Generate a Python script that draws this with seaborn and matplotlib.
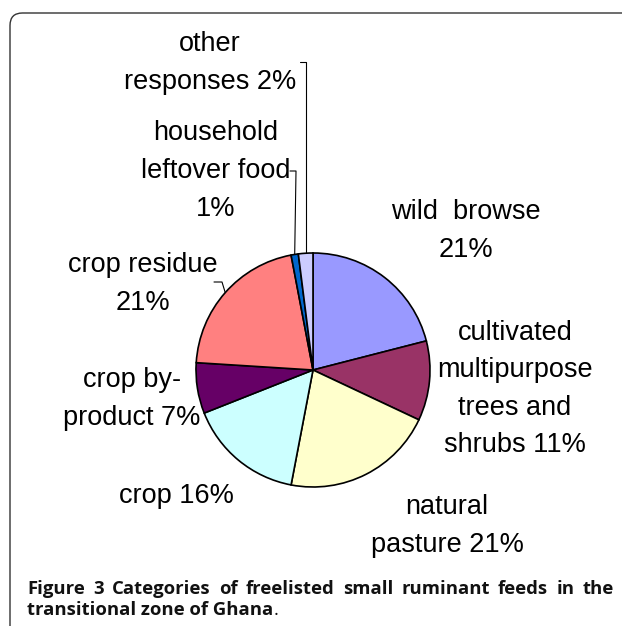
import matplotlib
matplotlib.use("Agg")
import matplotlib.pyplot as plt
import seaborn as sns
import numpy as np
from matplotlib.patches import FancyBboxPatch

# Data: feed categories, clockwise from 12 o'clock
categories = ["wild browse", "cultivated multipurpose trees and shrubs", "natural pasture",
              "crop", "crop by-product", "crop residue", "household leftover food",
              "other responses"]
shares = [21, 11, 21, 16, 7, 21, 1, 2]
colors = ["#9999FF", "#993366", "#FFFFCC", "#CCFFFF", "#660066", "#FF8080",
          "#0066CC", "#CCCCFF"]
label_texts = ["wild  browse\n21%", "cultivated\nmultipurpose\ntrees and\nshrubs 11%",
               "natural\npasture 21%", "crop 16%", "crop by-\nproduct 7%",
               "crop residue\n21%", "household\nleftover food\n1%", "other\nresponses 2%"]
caption_line1 = "Figure 3 Categories of freelisted small ruminant feeds in the"
caption_line2 = "transitional zone of Ghana"

sns.set_style("white")
plt.rcParams['font.family'] = ['Liberation Sans', 'DejaVu Sans']

W, H = 622, 626
fig = plt.figure(figsize=(W / 100, H / 100), dpi=100)

# rounded frame
frame = FancyBboxPatch((10 / W, -30 / H), (W + 40) / W, (H - 13 + 30) / H,
                       boxstyle="round,pad=0,rounding_size=0.02",
                       transform=fig.transFigure, fill=False,
                       edgecolor="#333333", linewidth=1.0)
fig.patches.append(frame)

# pie placement (pixel centre and radius)
cx, cy, r = 313, 370, 117
ax = fig.add_axes([(cx - r) / W, (H - cy - r) / H, 2 * r / W, 2 * r / H])
wedges, _ = ax.pie(shares, colors=colors, startangle=90, counterclock=False, radius=1,
                   wedgeprops=dict(edgecolor="black", linewidth=1.2))
ax.set_xlim(-1, 1)
ax.set_ylim(-1, 1)
ax.set_aspect("equal")
ax.axis("off")


def px(x, y):
    return ((x - cx) / r, (cy - y) / r)


def mid_point(w, rad=1.0):
    ang = np.deg2rad((w.theta1 + w.theta2) / 2)
    return rad * np.cos(ang), rad * np.sin(ang)


# label positions in pixels (centre of text block)
label_pos = [(466, 231), (515, 389), (447, 526), (176, 496), (132, 399),
             (143, 284), (216, 171), (210, 63)]
for txt, (x, y) in zip(label_texts, label_pos):
    fig.text(x / W, 1 - y / H, txt, ha="center", va="center", fontsize=19.5,
             linespacing=1.58, color="black")

# leader lines
lk = dict(color="black", linewidth=0.8, clip_on=False)
# other responses
mx, my = mid_point(wedges[7])
tx, ty = px(300, 62)
ax.plot([mx, mx, tx], [my, ty, ty], **lk)
# household leftover food
mx, my = mid_point(wedges[6])
tx, ty = px(290, 171)
kx, _ = px(296, 171)
ax.plot([mx, kx, tx], [my, ty, ty], **lk)
# crop residue
mx, my = mid_point(wedges[5])
kx, ky = px(222, 282)
tx, ty = px(214, 282)
ax.plot([mx, kx, tx], [my, ky, ty], **lk)

# caption: size so that line 2 spans x=27..270, line 1 justified to x=614
cfont = ["Open Sans", "DejaVu Sans"]
ccol = "#111111"
renderer = fig.canvas.get_renderer()
probe = fig.text(0, 0, caption_line2, fontsize=13, fontweight="bold", family=cfont)
csize = 13 * 243 / probe.get_window_extent(renderer).width
probe.remove()

arts = [fig.text(0, 1 - 594 / H, w, fontsize=csize, fontweight="bold", family=cfont,
                 va="baseline", color=ccol) for w in caption_line1.split()]
widths = [t.get_window_extent(renderer).width for t in arts]
gap = (614 - 27 - sum(widths)) / (len(arts) - 1)
x = 27
for t, wd in zip(arts, widths):
    t.set_x(x / W)
    x += wd + gap
cap2 = fig.text(27 / W, 1 - 615 / H, caption_line2, fontsize=csize, fontweight="bold",
                family=cfont, va="baseline", color=ccol)
plt.annotate(".", xy=(1, 0), xycoords=cap2, va="bottom", fontsize=csize,
             family=cfont, color=ccol)

fig.savefig("out.png", dpi=100)
